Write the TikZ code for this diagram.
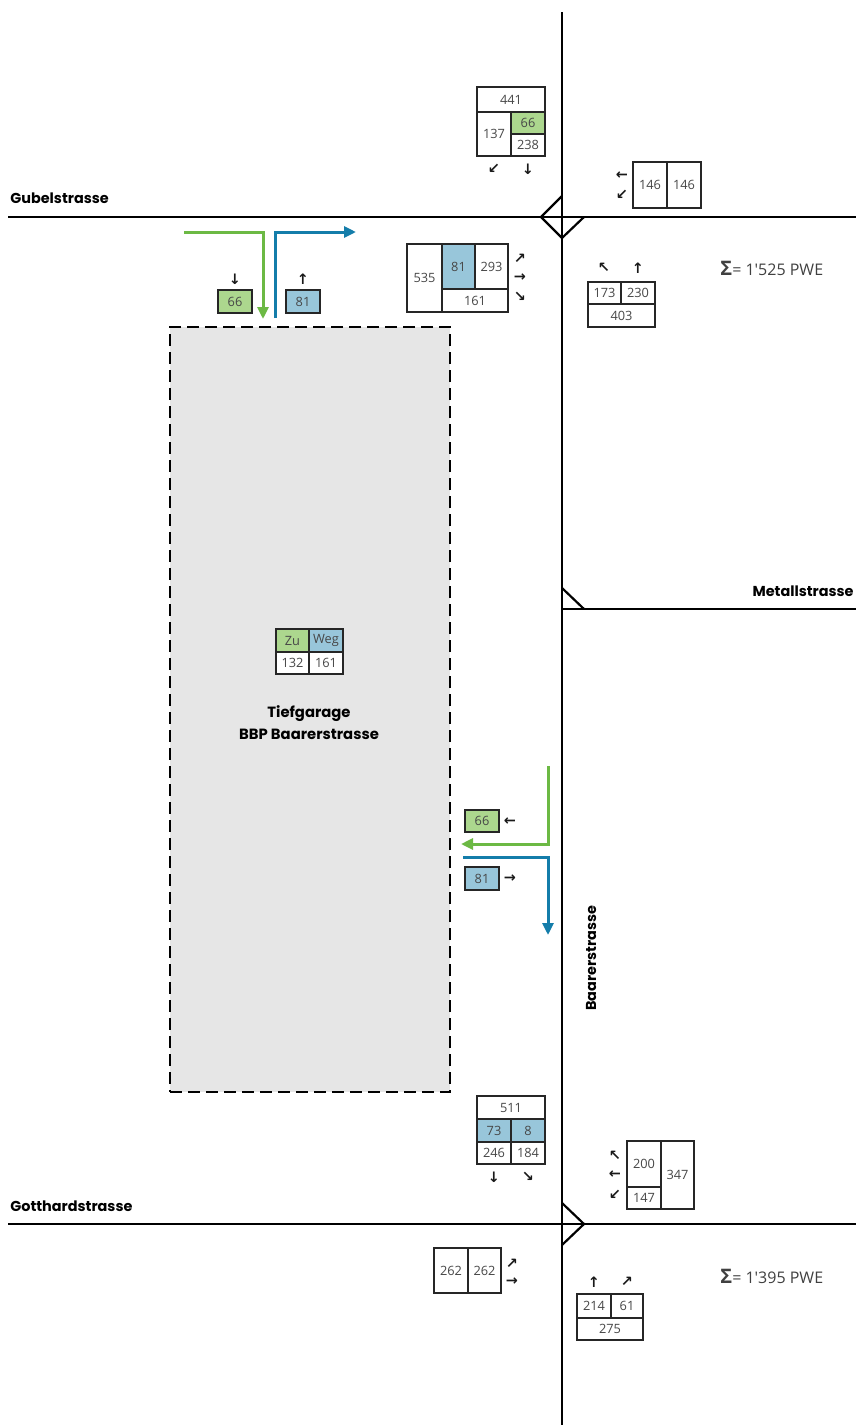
\documentclass[tikz,border=0pt]{standalone}
\usepackage{fontspec}
\usetikzlibrary{arrows.meta}
\newfontfamily\numfont{Open Sans}
\newfontfamily\streetfont{Poppins}
\newfontfamily\arrfont{DejaVu Sans}
\definecolor{zugreen}{HTML}{ACD78E}
\definecolor{wegblue}{HTML}{98C6DA}
\definecolor{flowgreen}{HTML}{6CB944}
\definecolor{flowblue}{HTML}{147DAA}
\definecolor{garage}{HTML}{E6E6E6}
\tikzset{
  road/.style={line width=1.35pt, black},
  corner/.style={line width=1.1pt, black, line join=miter},
  cellbox/.style={draw=black!85, line width=0.75pt, inner sep=0pt, font=\numfont\fontsize{6.4pt}{7pt}\selectfont, text=black!72},
  arr/.style={font=\arrfont\bfseries\fontsize{7.2pt}{8pt}\selectfont, inner sep=0pt, text=black!90},
  street/.style={font=\streetfont\bfseries\fontsize{7.2pt}{8pt}\selectfont, inner sep=0pt},
  flowG/.style={line width=1.5pt, flowgreen, -{Triangle[length=6pt,width=5.5pt]}},
  flowB/.style={line width=1.5pt, flowblue, -{Triangle[length=6pt,width=5.5pt]}},
  sumtxt/.style={font=\numfont\fontsize{8pt}{9pt}\selectfont, text=black!75, inner sep=0pt, anchor=west}
}
\newcommand\mycell[7]{\node[cellbox,fill=#7,minimum width={(#4-#2)*0.5pt},minimum height={(#5-#3)*0.5pt}] (#1) at ({(#2+#4)/2},{(#3+#5)/2}) {#6};}
\begin{document}
\begin{tikzpicture}[x=0.5pt,y=-0.5pt]
\useasboundingbox (0,0) rectangle (856,1425);
% garage
\node[draw, dashed, dash pattern=on 6pt off 3pt, line width=1pt, fill=garage, minimum width=140pt, minimum height=382.5pt, inner sep=0pt] (garage) at (310,709.5) {};
\node[street, align=center, font=\streetfont\bfseries\fontsize{7.4pt}{11pt}\selectfont] (tg) at (309,723) {Tiefgarage\\BBP Baarerstrasse};
\mycell{zu}{276}{629}{309}{652}{Zu}{zugreen}
\mycell{weg}{309}{629}{343}{652}{Weg}{wegblue}
\mycell{zun}{276}{652}{309}{674}{132}{white}
\mycell{wegn}{309}{652}{343}{674}{161}{white}
% roads
\coordinate (vtop) at (562,12);
\coordinate (vbot) at (562,1425);
\coordinate (gubW) at (8,217);
\coordinate (gubE) at (856,217);
\coordinate (gotW) at (8,1224);
\coordinate (gotE) at (856,1224);
\coordinate (metW) at (562,609);
\coordinate (metE) at (856,609);
\draw[road] (vtop) -- (vbot);
\draw[road] (gubW) -- (gubE);
\draw[road] (gotW) -- (gotE);
\draw[road] (metW) -- (metE);
% corner marks
\coordinate (t1) at (562,196);
\coordinate (t2) at (541,217);
\coordinate (t3) at (562,238);
\coordinate (t4) at (584,217);
\draw[corner] (t1) -- (t2) -- (t3) -- (t4);
\coordinate (m1) at (562,588);
\coordinate (m2) at (584,609);
\draw[corner] (m1) -- (m2);
\coordinate (b1) at (562,1203);
\coordinate (b2) at (584,1224);
\coordinate (b3) at (562,1245);
\draw[corner] (b1) -- (b2) -- (b3);
% street names
\node[street, anchor=west] (gubel) at (10,198) {Gubelstrasse};
\node[street, anchor=west] (gott) at (10,1206) {Gotthardstrasse};
\node[street, anchor=east] (metall) at (854,591) {Metallstrasse};
\node[street, rotate=90] (baar) at (591,958) {Baarerstrasse};
% flows top-left
\coordinate (g1s) at (184,232);
\coordinate (g1c) at (263,232);
\coordinate (g1e) at (263,319);
\draw[flowG] (g1s) -- (g1c) -- (g1e);
\coordinate (b1s) at (275,318);
\coordinate (b1c) at (275,232);
\coordinate (b1e) at (356,232);
\draw[flowB] (b1s) -- (b1c) -- (b1e);
\mycell{fg1}{218}{290}{252}{313}{66}{zugreen}
\mycell{fb1}{286}{290}{320}{313}{81}{wegblue}
\node[arr] (afg1) at (235,279) {↓};
\node[arr] (afb1) at (303,279) {↑};
% flows right
\coordinate (g2s) at (548,766);
\coordinate (g2c) at (548,844);
\coordinate (g2e) at (461,844);
\draw[flowG] (g2s) -- (g2c) -- (g2e);
\coordinate (b2s) at (463,857);
\coordinate (b2c) at (548,857);
\coordinate (b2e) at (548,935);
\draw[flowB] (b2s) -- (b2c) -- (b2e);
\mycell{fg2}{465}{810}{499}{832}{66}{zugreen}
\mycell{fb2}{465}{867}{499}{890}{81}{wegblue}
\node[arr] (afg2) at (510,822) {←};
\node[arr] (afb2) at (510,879) {→};
% top intersection: north approach
\mycell{tn1}{477}{87}{545}{112}{441}{white}
\mycell{tn2}{477}{112}{511}{156}{137}{white}
\mycell{tn3}{511}{112}{545}{134}{66}{zugreen}
\mycell{tn4}{511}{134}{545}{156}{238}{white}
\node[arr] (atn1) at (494,169) {↙};
\node[arr] (atn2) at (528,169) {↓};
% east approach
\mycell{te1}{633}{162}{667}{208}{146}{white}
\mycell{te2}{667}{162}{701}{208}{146}{white}
\node[arr] (ate1) at (622,176) {←};
\node[arr] (ate2) at (622,195) {↙};
% west approach
\mycell{tw1}{407}{244}{442}{312}{535}{white}
\mycell{tw2}{442}{244}{475}{289}{81}{wegblue}
\mycell{tw3}{475}{244}{508}{289}{293}{white}
\mycell{tw4}{442}{289}{508}{312}{161}{white}
\node[arr] (atw1) at (520,259) {↗};
\node[arr] (atw2) at (520,278) {→};
\node[arr] (atw3) at (520,297) {↘};
% south approach
\mycell{ts1}{588}{282}{621}{304}{173}{white}
\mycell{ts2}{621}{282}{655}{304}{230}{white}
\mycell{ts3}{588}{304}{655}{327}{403}{white}
\node[arr] (ats1) at (604,268) {↖};
\node[arr] (ats2) at (638,268) {↑};
\node[sumtxt] (sum1) at (720,268) {\textbf{\fontsize{10pt}{10pt}\selectfont Σ}= 1'525 PWE};
% bottom intersection: north approach
\mycell{bn1}{477}{1096}{545}{1119}{511}{white}
\mycell{bn2}{477}{1119}{511}{1142}{73}{wegblue}
\mycell{bn3}{511}{1119}{545}{1142}{8}{wegblue}
\mycell{bn4}{477}{1142}{511}{1164}{246}{white}
\mycell{bn5}{511}{1142}{545}{1164}{184}{white}
\node[arr] (abn1) at (494,1177) {↓};
\node[arr] (abn2) at (528,1177) {↘};
% east approach
\mycell{be1}{627}{1141}{661}{1187}{200}{white}
\mycell{be2}{627}{1187}{661}{1209}{147}{white}
\mycell{be3}{661}{1141}{694}{1209}{347}{white}
\node[arr] (abe1) at (615,1156) {↖};
\node[arr] (abe2) at (615,1175) {←};
\node[arr] (abe3) at (615,1195) {↙};
% west approach
\mycell{bw1}{434}{1248}{468}{1293}{262}{white}
\mycell{bw2}{468}{1248}{501}{1293}{262}{white}
\node[arr] (abw1) at (512,1264) {↗};
\node[arr] (abw2) at (512,1282) {→};
% south approach
\mycell{bs1}{577}{1294}{611}{1318}{214}{white}
\mycell{bs2}{611}{1294}{643}{1318}{61}{white}
\mycell{bs3}{577}{1318}{643}{1340}{275}{white}
\node[arr] (abs1) at (594,1282) {↑};
\node[arr] (abs2) at (627,1282) {↗};
\node[sumtxt] (sum2) at (720,1276) {\textbf{\fontsize{10pt}{10pt}\selectfont Σ}= 1'395 PWE};
\end{tikzpicture}
\end{document}
